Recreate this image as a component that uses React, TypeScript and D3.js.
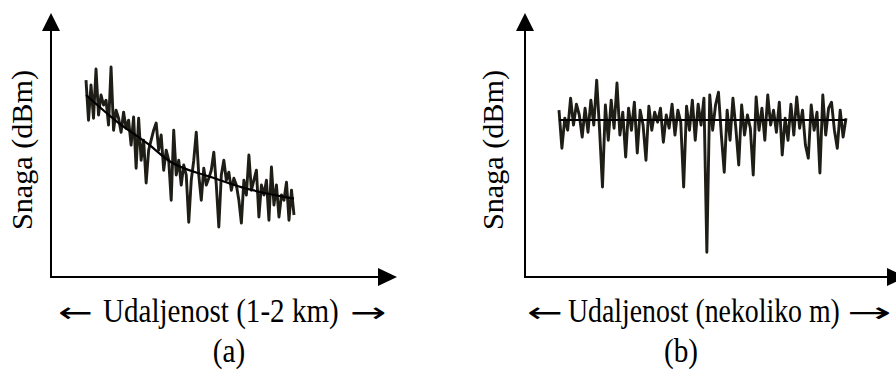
import * as d3 from 'd3'

const W = 896
const H = 372

// received power (dBm) along the path, panel (a): 1-2 km, one sample per step
const LEFT_VALUES = [
    -50.8, -60.8, -52, -60.3, -48, -59.5, -54.5, -57, -55.8, -62,
    -47.5, -63.3, -58.3, -60.3, -63.8, -58.8, -62.8, -60.8, -67, -60,
    -72.8, -60.3, -70.8, -65.8, -76.5, -68.3, -65.8, -63.3, -61.5, -68.3,
    -64.5, -73.3, -68.3, -70.8, -80.8, -63.3, -74.5, -70.8, -77, -72,
    -74.5, -86.3, -75.8, -70.8, -63.8, -74.5, -80.8, -72.8, -77, -75.3,
    -73.3, -68.8, -77, -87.5, -74.5, -70.8, -75.8, -73.8, -78.3, -75.3,
    -77, -80.8, -86.5, -75.8, -79.5, -69.5, -78.3, -75.8, -73.3, -85,
    -77, -79.5, -75.8, -85.8, -72.5, -82, -77, -85, -79.5, -80.8,
    -76.3, -85.8, -78.3, -84.5,
]
// mean path loss trend for panel (a)
const LEFT_TREND_KM = [1.0, 1.15, 1.3, 1.4, 1.6, 1.75, 2.0]
const LEFT_TREND_DBM = [-54.5, -61.2, -66.8, -71, -75, -77.6, -80.4]

// panel (b): a few metres, fast fading around a flat mean
const RIGHT_VALUES = [
    -58.3, -67.8, -60.3, -63.3, -55.3, -62, -56.8, -59.5, -65, -57.8,
    -63.8, -55.8, -62, -50.8, -63.3, -77.5, -57, -65.8, -55.8, -62.8,
    -51.5, -64.5, -58.8, -70, -57.8, -63.3, -56.3, -69, -58.3, -62,
    -70.8, -57.3, -63.3, -58.8, -61.3, -57.8, -66.3, -59.5, -62.8, -56.8,
    -64.5, -58.3, -61.3, -77.5, -57.3, -63.3, -55.8, -65.8, -56.8, -62,
    -55.3, -93.8, -54.5, -63.3, -57, -53.8, -64.5, -73.8, -58.3, -65.8,
    -55.3, -62.8, -72, -57, -64.5, -59.5, -62.8, -74.5, -55, -63.3,
    -57.8, -65.8, -54.5, -62, -58.3, -63.8, -56.3, -69.5, -60.3, -65.8,
    -56.8, -64.5, -55, -62.8, -58.3, -67, -70.3, -57, -63.3, -58.8,
    -74, -54.5, -64.5, -57.8, -56.3, -63.3, -67.8, -58.3, -65, -60.3,
]
const RIGHT_TREND_M = [0, 5]
const RIGHT_TREND_DBM = [-60.75, -60.75]

const Y_DOMAIN = [-100, -34]
const FONT = 'Liberation Serif'
const ARROW_FONT = 'DejaVu Sans'
const INK = '#1e1d16'

const yScale = d3.scaleLinear().domain(Y_DOMAIN).range([277, 13])

// text arrow "←" / "→", widened to the long arrows of the figure
const Arrow = ({ x, sx, ch }) => (
    <text transform={`translate(${x},322) scale(${sx},1)`} fontFamily={ARROW_FONT} fontSize={28} fill="#000">{ch}</text>
)

const Panel = (props) => {
    const { axisX, xEnd, xRange, domain, values, trendX, trendY, snagaX, label, labelX, labelSx, arrowL, arrowR, tag, tagX } = props
    const x = d3.scaleLinear().domain(domain).range(xRange)
    const step = (domain[1] - domain[0]) / (values.length - 1)
    const noisy = d3.line()
        .x((d, i) => x(domain[0] + i * step))
        .y(d => yScale(d))
    const trend = d3.line()
        .x(d => x(d[0]))
        .y(d => yScale(d[1]))
        .curve(d3.curveMonotoneX)
    const y0 = yScale(Y_DOMAIN[0])
    const yTop = yScale(Y_DOMAIN[1])
    return (
        <g>
            {/* axes */}
            <line x1={axisX} y1={y0} x2={axisX} y2={yTop + 10} stroke="#000" strokeWidth={2} />
            <line x1={axisX - 1} y1={y0} x2={xEnd - 10} y2={y0} stroke="#000" strokeWidth={2} />
            <path d={`M${axisX},${yTop}L${axisX - 9},${yTop + 18}L${axisX + 9},${yTop + 18}Z`} fill="#000" />
            <path d={`M${xEnd},${y0}L${xEnd - 19},${y0 - 9}L${xEnd - 19},${y0 + 9}Z`} fill="#000" />

            <path d={noisy(values)} fill="none" stroke={INK} strokeWidth={2.9} strokeLinejoin="round" />
            <path d={trend(d3.zip(trendX, trendY))} fill="none" stroke="#000" strokeWidth={2.2} />

            <text transform={`translate(${snagaX},150) rotate(-90) scale(1.04,1)`} textAnchor="middle"
                fontFamily={FONT} fontSize={29} fill="#000">
                Snaga (dBm)
            </text>
            <Arrow x={arrowL[0]} sx={arrowL[1]} ch="←" />
            <text transform={`translate(${labelX},322) scale(${labelSx},1)`} fontFamily={FONT} fontSize={34} fill="#000">
                {label}
            </text>
            <Arrow x={arrowR[0]} sx={arrowR[1]} ch="→" />
            <text transform={`translate(${tagX},362) scale(0.86,1)`} textAnchor="middle"
                fontFamily={FONT} fontSize={34} fill="#000">{tag}</text>
        </g>
    )
}

export default function App() {
    return (
        <svg width={W} height={H} style={{ position: 'absolute', left: 0, top: 0, background: '#fff' }}>
            <rect width={W} height={H} fill="#fff" />
            <Panel axisX={51} xEnd={397} xRange={[86, 294]} domain={[1, 2]}
                values={LEFT_VALUES} trendX={LEFT_TREND_KM} trendY={LEFT_TREND_DBM} snagaX={31.5}
                label="Udaljenost (1-2 km)" labelX={103} labelSx={0.855}
                arrowL={[58, 1.48]} arrowR={[350, 1.55]} tag="(a)" tagX={229} />
            <Panel axisX={525} xEnd={906} xRange={[559, 846]} domain={[0, 5]}
                values={RIGHT_VALUES} trendX={RIGHT_TREND_M} trendY={RIGHT_TREND_DBM} snagaX={502.5}
                label="Udaljenost (nekoliko m)" labelX={568} labelSx={0.818}
                arrowL={[527, 1.52]} arrowR={[847, 1.9]} tag="(b)" tagX={681} />
        </svg>
    )
}
